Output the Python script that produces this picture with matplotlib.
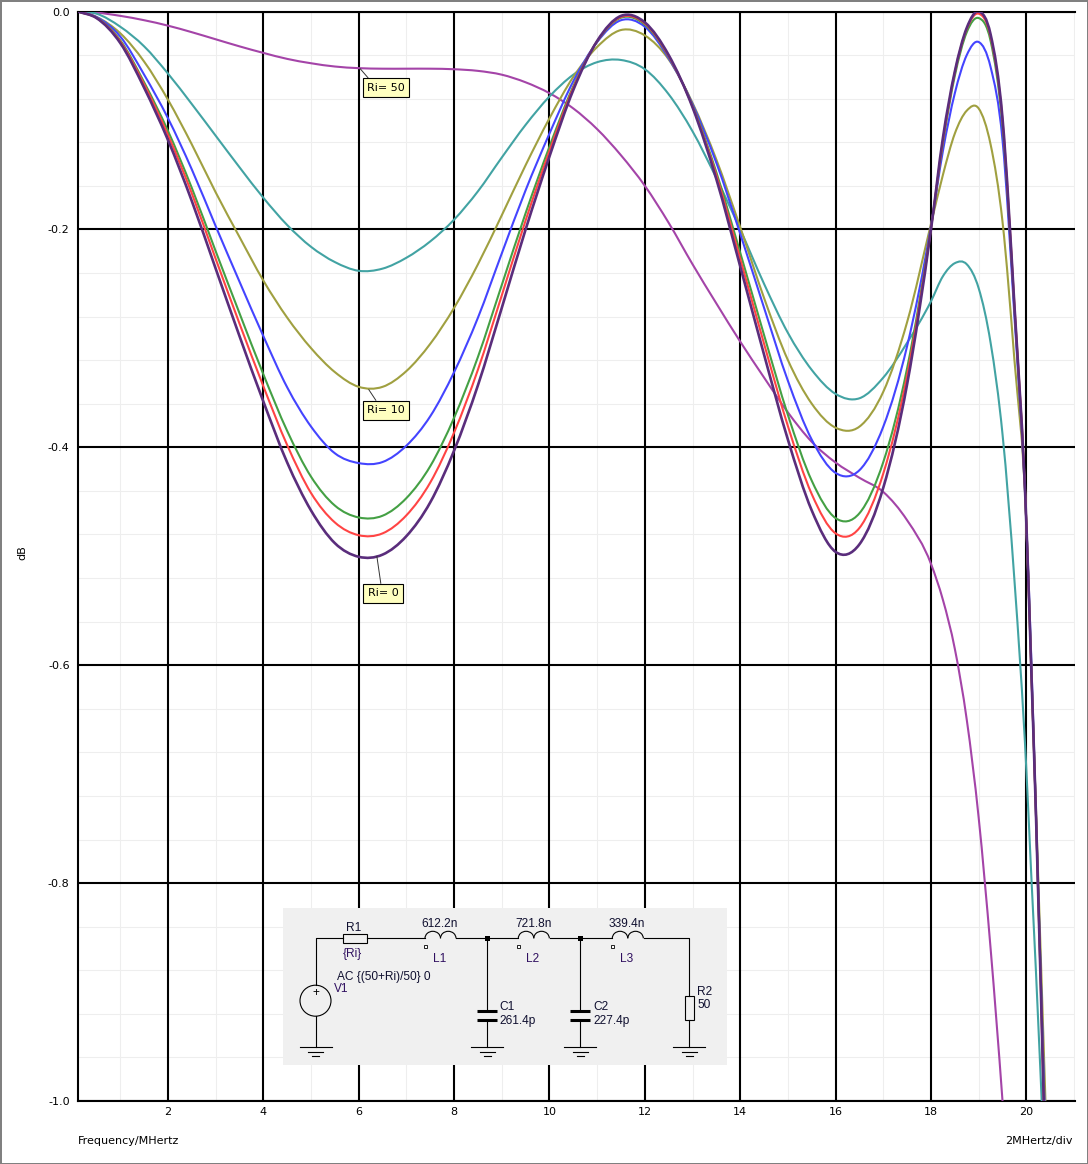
#!/usr/bin/env python3
"""Insertion loss of a 5th order LC low-pass for source resistances Ri, schematic below."""
import numpy as np
import matplotlib
matplotlib.use("Agg")
import matplotlib.pyplot as plt
from matplotlib.patches import Arc, Circle, PathPatch, Rectangle
from matplotlib.path import Path

plt.rcParams["axes.unicode_minus"] = False
plt.rcParams["font.family"] = "DejaVu Sans"

# values
FREQ = [0.11, 0.5, 1, 1.5, 2, 2.5, 3, 3.5, 4, 4.5, 5, 5.5, 6, 6.5, 7, 7.5, 8, 8.5, 9, 9.5,
        10, 10.5, 11, 11.5, 12, 12.5, 13, 13.5, 14, 14.5, 15, 15.5, 16, 16.5, 17, 17.5, 18,
        18.25, 18.5, 18.75, 19, 19.25, 19.5, 19.75, 20, 20.1, 20.2, 20.4]

RI_50 = [0, -.001, -.004, -.008, -.013, -.019, -.0255, -.032, -.038, -.0435, -.0475, -.0505, -.052, -.0525,
         -.0525, -.0525, -.053, -.0545, -.058, -.065, -.075, -.089, -.108, -.132, -.16, -.194, -.232, -.268,
         -.303, -.336, -.368, -.395, -.414, -.428, -.441, -.467, -.507, -.54, -.585, -.65, -.74, -.86,
         -1.0, -1.16, -1.33, -1.4, -1.47, -1.6]
RI_30 = [0, -.002, -.014, -.032, -.057, -.085, -.114, -.143, -.171, -.196, -.216, -.23, -.238, -.236,
         -.226, -.211, -.191, -.165, -.134, -.104, -.078, -.058, -.0465, -.0445, -.053, -.076, -.11,
         -.153, -.2, -.25, -.295, -.329, -.351, -.355, -.336, -.304, -.266, -.243, -.231, -.232, -.254,
         -.304, -.388, -.522, -.696, -.79, -.88, -1.08]
RI_10 = [0, -.005, -.02, -.046, -.081, -.122, -.166, -.207, -.247, -.281, -.309, -.331, -.3445, -.3445,
         -.33, -.305, -.272, -.232, -.187, -.141, -.098, -.06, -.0325, -.017, -.022, -.044, -.084,
         -.136, -.198, -.263, -.32, -.36, -.382, -.381, -.349, -.285, -.195, -.15, -.112, -.091, -.089,
         -.122, -.193, -.32, -.47, -.6, -.73, -1.0]
RI_5 = [0, -.005, -.023, -.058, -.098, -.145, -.197, -.248, -.298, -.345, -.381, -.4055, -.4145, -.4135,
        -.3985, -.3715, -.331, -.281, -.222, -.164, -.112, -.064, -.028, -.008, -.014, -.043, -.085, -.139,
        -.204, -.272, -.339, -.393, -.4235, -.421, -.381, -.307, -.197, -.128, -.075, -.04, -.028, -.051,
        -.118, -.28, -.47, -.59, -.735, -1.03]
RI_2 = [0, -.0056, -.0265, -.065, -.1096, -.162, -.22, -.277, -.333, -.385, -.427, -.4535, -.4644, -.4628,
        -.4466, -.4173, -.3728, -.317, -.251, -.185, -.124, -.0686, -.0275, -.0057, -.012, -.0415, -.0865,
        -.1477, -.2214, -.297, -.3703, -.4307, -.465, -.4605, -.4135, -.3273, -.1987, -.121, -.059, -.019,
        -.006, -.027, -.105, -.272, -.47, -.598, -.735, -1.05]
RI_1 = [0, -.0058, -.0276, -.067, -.1134, -.167, -.227, -.2865, -.344, -.398, -.442, -.469, -.4807, -.479,
        -.4624, -.4323, -.3864, -.3287, -.2605, -.1917, -.128, -.07, -.0272, -.005, -.011, -.041, -.0873,
        -.1505, -.2271, -.305, -.3806, -.443, -.479, -.474, -.424, -.334, -.1993, -.1188, -.056, -.016,
        -.002, -.023, -.1, -.27, -.47, -.6, -.735, -1.06]
RI_0 = [0, -.006, -.029, -.07, -.118, -.174, -.236, -.298, -.358, -.414, -.458, -.488, -.5005, -.4985,
        -.4815, -.4505, -.403, -.343, -.272, -.2, -.133, -.072, -.027, -.004, -.01, -.04, -.088, -.154,
        -.234, -.315, -.393, -.458, -.496, -.489, -.437, -.342, -.2, -.116, -.055, -.015, 0, -.021, -.098,
        -.27, -.47, -.6, -.735, -1.06]

SERIES = [
    (RI_50, "#a444a8", 1.5),
    (RI_30, "#42a3a3", 1.5),
    (RI_10, "#a0a040", 1.5),
    (RI_5, "#4444ff", 1.5),
    (RI_2, "#44a044", 1.5),
    (RI_1, "#ff4444", 1.5),
    (RI_0, "#5a2d7c", 1.9),
]
X_TICKS = [2, 4, 6, 8, 10, 12, 14, 16, 18, 20]
X_MINOR = [1, 3, 5, 7, 9, 11, 13, 15, 17, 19, 21]
Y_TICKS = [0.0, -0.2, -0.4, -0.6, -0.8, -1.0]
Y_MINOR = [-0.04, -0.08, -0.12, -0.16, -0.24, -0.28, -0.32, -0.36, -0.44, -0.48, -0.52, -0.56,
           -0.64, -0.68, -0.72, -0.76, -0.84, -0.88, -0.92, -0.96]
# text, curve point, label centre, where the leader meets the box
LABELS = [
    ("Ri= 50", 6.03, -0.0525, 6.57, -0.070, 0.14),
    ("Ri= 10", 6.21, -0.347, 6.57, -0.366, 0.32),
    ("Ri= 0", 6.38, -0.5, 6.51, -0.534, 0.45),
]
W, H = 1088, 1164


def smooth_path(xs, ys):
    # draws the read values as one bezier curve, the way the simulator's trace looks smooth
    xs, ys = np.asarray(xs, float), np.asarray(ys, float)
    slope = np.gradient(ys, xs)
    verts = [(xs[0], ys[0])]
    codes = [Path.MOVETO]
    for i in range(len(xs) - 1):
        d = (xs[i + 1] - xs[i]) / 3
        verts += [(xs[i] + d, ys[i] + slope[i] * d),
                  (xs[i + 1] - d, ys[i + 1] - slope[i + 1] * d),
                  (xs[i + 1], ys[i + 1])]
        codes += [Path.CURVE4] * 3
    return Path(verts, codes)


def ground(ax, x, y, half=16):
    ax.plot([x - half, x + half], [y, y], color="k", lw=0.8)
    ax.plot([x - half * 0.47, x + half * 0.47], [y + 5, y + 5], color="k", lw=0.8)
    ax.plot([x - 3.5, x + 3.5], [y + 9.5, y + 9.5], color="k", lw=0.8)


def coil(ax, x0, y, marker_y):
    w = 15.5
    for k in range(2):
        ax.add_patch(Arc((x0 + w * (k + 0.5), y), w, 14, theta1=180, theta2=360, color="k", lw=0.8))
    ax.add_patch(Rectangle((x0 - 1.5, marker_y - 1.5), 3, 3, fc="white", ec="k", lw=0.6))


def draw_schematic(fig):
    ax = fig.add_axes([283 / W, 1 - 1065 / H, 444 / W, 157 / H], facecolor="#f0f0f0", zorder=5)
    ax.set_xlim(283, 727)
    ax.set_ylim(1065, 908)
    ax.set_xticks([])
    ax.set_yticks([])
    for s in ax.spines.values():
        s.set_visible(False)

    top = 938.3
    wires = [([315.5, 315.5, 343], [985, top, top]), ([367, 425], [top, top]),
             ([456, 518.3], [top, top]), ([549.5, 612.3], [top, top]),
             ([643.5, 689.3, 689.3], [top, top, 996.3]), ([689.3, 689.3], [1020.3, 1046.7]),
             ([315.5, 315.5], [1016.5, 1046.7]),
             ([487.3, 487.3], [top, 1011]), ([487.3, 487.3], [1021, 1046.7]),
             ([580.3, 580.3], [top, 1011]), ([580.3, 580.3], [1021, 1046.7])]
    for xs, ys in wires:
        ax.plot(xs, ys, color="k", lw=0.8)

    ax.add_patch(Rectangle((342.7, 934.3), 24, 8.7, fc="#f0f0f0", ec="k", lw=0.8))
    ax.add_patch(Rectangle((685.3, 996.3), 9, 24, fc="#f0f0f0", ec="k", lw=0.8))
    ax.add_patch(Circle((315.5, 1000.7), 15.5, fc="#f0f0f0", ec="k", lw=0.8))
    for x0 in (425, 518.3, 612.3):
        coil(ax, x0, top, 946.3)
    for x in (487.3, 580.3):
        ax.add_patch(Rectangle((x - 2.5, top - 2.5), 5, 5, fc="k", ec="k", lw=0))
        for y in (1011.5, 1020.5):
            ax.plot([x - 10, x + 10], [y, y], color="k", lw=2.2, solid_capstyle="butt")
    for x in (315.5, 487.3, 580.3, 689.3):
        ground(ax, x, 1046.7)

    for txt, x, y, ha, col in [
        ("R1", 353.3, 927.7, "center", "#101030"), ("{Ri}", 352, 954, "center", "#301060"),
        ("612.2n", 440, 924, "center", "#101030"), ("L1", 439.7, 959, "center", "#301060"),
        ("721.8n", 533.7, 924, "center", "#101030"), ("L2", 533, 959, "center", "#301060"),
        ("339.4n", 626.7, 924, "center", "#101030"), ("L3", 626.7, 959, "center", "#301060"),
        ("AC {(50+Ri)/50} 0", 337.3, 976.7, "left", "#101030"), ("V1", 334.3, 988.7, "left", "#301060"),
        ("+", 315.5, 993.5, "center", "k"),
        ("C1", 499.3, 1006.7, "left", "#101030"), ("261.4p", 499.3, 1020.7, "left", "#101030"),
        ("C2", 593.3, 1006.7, "left", "#101030"), ("227.4p", 593.3, 1020.7, "left", "#101030"),
        ("R2", 697.3, 991.7, "left", "#101030"), ("50", 697.3, 1004.7, "left", "#101030"),
    ]:
        ax.text(x, y, txt, ha=ha, va="center", color=col, fontsize=8.6, family="Liberation Sans")


fig = plt.figure(figsize=(W / 100, H / 100), dpi=100, facecolor="white", edgecolor="#808080", linewidth=2)
ax = fig.add_axes([78 / W, 1 - 1101 / H, 997 / W, (1101 - 11.5) / H])
ax.set_xlim(0.113, 21.02)
ax.set_ylim(-1.0, 0.0)

ax.set_xticks(X_TICKS)
ax.set_yticks(Y_TICKS)
ax.set_yticklabels([f"{v:.1f}" for v in Y_TICKS])
ax.tick_params(length=0, labelsize=8, pad=4)
ax.tick_params(axis="y", pad=6)

# explicit lines so the pale grid stays under the black one
for v in X_MINOR:
    ax.axvline(v, color="#eeeeee", lw=0.8, zorder=0.5)
for v in Y_MINOR:
    ax.axhline(v, color="#eeeeee", lw=0.8, zorder=0.5)
for v in X_TICKS:
    ax.axvline(v, color="k", lw=1.5, zorder=1)
for v in Y_TICKS:
    ax.axhline(v, color="k", lw=1.5, zorder=1)
for side in ("top", "left", "bottom"):
    ax.spines[side].set_linewidth(1.5)
ax.spines["right"].set_visible(False)

for values, color, lw in SERIES:
    ax.add_patch(PathPatch(smooth_path(FREQ, values), fc="none", ec=color, lw=lw, zorder=3))

for txt, x, y, tx, ty, rel in LABELS:
    ax.annotate(txt, xy=(x, y), xytext=(tx, ty), ha="center", va="center", fontsize=8, zorder=4,
                bbox=dict(boxstyle="square,pad=0.4", fc="#ffffc0", ec="k", lw=0.8),
                arrowprops=dict(arrowstyle="-", color="#333333", lw=0.7, relpos=(rel, 1),
                                shrinkA=0, shrinkB=0))

fig.text(22 / W, 1 - 553 / H, "dB", rotation=90, ha="center", va="center", fontsize=8)
fig.text(78 / W, 1 - 1141 / H, "Frequency/MHertz", ha="left", va="center", fontsize=8)
fig.text(1073 / W, 1 - 1141 / H, "2MHertz/div", ha="right", va="center", fontsize=8)

draw_schematic(fig)

fig.savefig("out.png", dpi=100)
